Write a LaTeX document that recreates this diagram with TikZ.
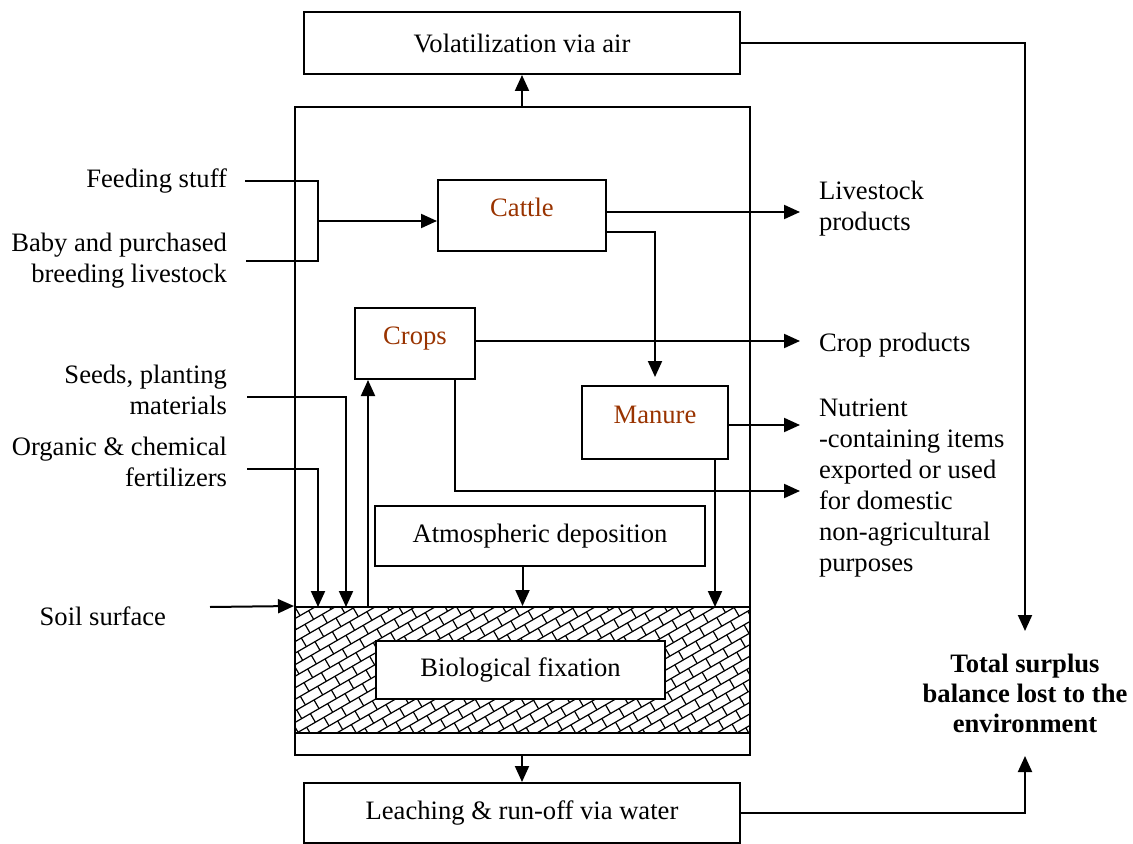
\documentclass[tikz,border=0pt]{standalone}
\usepackage{fontspec}
\setmainfont{Liberation Serif}
\usetikzlibrary{arrows.meta}
\definecolor{rust}{RGB}{153,51,0}

\begin{document}
\begin{tikzpicture}[x=0.5pt,y=-0.5pt,
    font=\fontsize{13.3}{15.5}\selectfont,
    line width=1pt,
    box/.style={draw,inner sep=0pt},
    farm/.style={box,text=rust,text height=9pt,text depth=8pt},
    lbl/.style={inner sep=0pt},
    arr/.style={-{Triangle[length=8pt,width=7pt]}},
    hatch/.style={line width=0.6pt}]
\useasboundingbox (0,0) rectangle (1133,844);

% the farm and the soil
\node[box,minimum width=227.5pt,minimum height=324pt] (big) at (522.5,431) {};
\begin{scope}
  \clip (295,607) rectangle (750,733);
  \begin{scope}[shift={(295,607)},rotate=30,hatch]
    \draw \foreach \k in {-2,...,36} {(-90,\k*10) -- (420,\k*10)};
    \draw \foreach \k in {-2,...,36} {\foreach \j in {-6,...,22} {({\j*20+mod(\k,2)*10},\k*10) -- ++(0,10)}};
  \end{scope}
\end{scope}
\node[box,minimum width=227.5pt,minimum height=63pt] (soil) at (522.5,670) {};
\node[box,fill=white,minimum width=144.5pt,minimum height=29pt] (bio) at (520.5,670) {Biological fixation};

\node[box,minimum width=218pt,minimum height=31pt] (vol) at (522,43) {Volatilization via air};
\node[box,minimum width=218pt,minimum height=30pt] (leach) at (522,813) {Leaching \& run-off via water};
\node[farm,minimum width=84pt,minimum height=35.5pt] (cattle) at (522,215.5) {Cattle};
\node[farm,minimum width=60pt,minimum height=35.5pt] (crops) at (415,343.5) {Crops};
\node[farm,minimum width=73pt,minimum height=36.5pt] (manure) at (655,422.5) {Manure};
\node[box,minimum width=165pt,minimum height=30pt] (atm) at (540,536) {Atmospheric deposition};

% labels
\node[lbl,anchor=east] (feed) at (228,181) {Feeding stuff};
\node[lbl,anchor=east,align=right] (baby) at (228,261) {Baby and purchased\\breeding livestock};
\node[lbl,anchor=east,align=right] (seeds) at (228,390) {Seeds, planting\\materials};
\node[lbl,anchor=east,align=right] (fert) at (228,462) {Organic \& chemical\\fertilizers};
\node[lbl,anchor=east] (surf) at (167,616) {Soil surface};
\node[lbl,anchor=west,align=left] (live) at (818,209) {Livestock\\products};
\node[lbl,anchor=west] (cropp) at (818,345) {Crop products};
\node[lbl,anchor=west,align=left] (nutr) at (818,488) {Nutrient\\-containing items\\exported or used\\for domestic\\non-agricultural\\purposes};
\node[lbl,align=center,font=\fontsize{13.3}{15}\selectfont\bfseries,minimum height=61.5pt] (total) at (1025,693.5) {Total surplus\\balance lost to the\\environment};

\coordinate (jn) at (318,221);
\coordinate (livetip) at (800,212);
\coordinate (croptip) at (800,341);
\coordinate (nutrtip) at (800,425);
\coordinate (domtip) at (800,491);
\coordinate (s1) at (318,607);
\coordinate (s2) at (346,607);
\coordinate (s3) at (368,607);
\coordinate (s5) at (715,607);

% flows
\draw ([xshift=8.5pt]feed.east) -| (jn) |- ([xshift=9pt]baby.east);
\draw[arr] (jn) -- (cattle.west |- jn);
\draw[arr] (cattle.east |- livetip) -- (livetip);
\draw[arr,shorten >=4pt] ([yshift=-8.25pt]cattle.east) -| (manure.north);
\draw[arr] (crops.east |- croptip) -- (croptip);
\draw[arr] ([xshift=20pt]crops.south) |- (domtip);
\draw[arr] (manure.east |- nutrtip) -- (nutrtip);
\draw[arr] ([xshift=30pt]manure.south) -- (s5);
\draw[arr] ([xshift=9.5pt,yshift=-3.25pt]seeds.east) -| (s2);
\draw[arr] ([xshift=9.5pt,yshift=-3.25pt]fert.east) -| (s1);
\draw[arr] (s3) -- (s3 |- crops.south);
\draw[arr] (atm.south -| soil.north) -- (soil.north);
\draw[arr] ([xshift=21.5pt,yshift=4.5pt]surf.east) -- (soil.north west);
\draw[arr] (vol.south |- big.north) -- (vol.south);
\draw[arr] (leach.north |- big.south) -- (leach.north);
\draw[arr] (vol.east) -| (total.north);
\draw[arr] (leach.east) -| (total.south);
\end{tikzpicture}
\end{document}
